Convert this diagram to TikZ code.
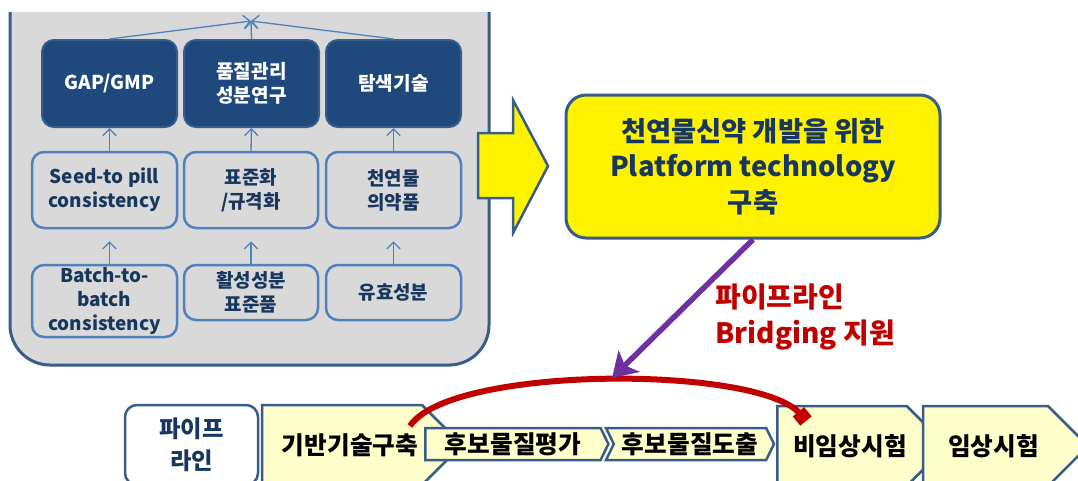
\documentclass[tikz,border=0pt]{standalone}
\usepackage{fontspec}
\setmainfont{Noto Sans CJK KR}
\usetikzlibrary{shapes.symbols,arrows.meta}

\definecolor{boxline}{HTML}{385D8A}
\definecolor{navy}{HTML}{1F497D}
\definecolor{midblue}{HTML}{4F81BD}
\definecolor{panelgray}{HTML}{D9D9D9}
\definecolor{paleyellow}{HTML}{FFFFCC}
\definecolor{darkred}{HTML}{C00000}
\definecolor{bridgepurple}{HTML}{7030A0}
\definecolor{textnavy}{HTML}{17375E}

\newdimen\pxu \pxu=0.75pt

\tikzset{
  topbox/.style={draw=boxline, fill=navy, line width=2\pxu, rounded corners=12\pxu,
    text=white, font=\fontsize{14.3}{17.5}\selectfont\bfseries, align=center,
    inner sep=0pt, minimum width=135\pxu, minimum height=87\pxu},
  subbox/.style={draw=midblue, fill=panelgray, line width=2.5\pxu, rounded corners=12\pxu,
    text=textnavy, font=\fontsize{14.2}{18}\selectfont\bfseries, align=center, inner sep=0pt},
  up/.style={draw=midblue, line width=1.3\pxu, -{Straight Barb[length=5pt,width=10pt]}},
  platbox/.style={draw=boxline, fill=yellow, line width=3\pxu, rounded corners=20\pxu,
    text=textnavy, font=\fontsize{20.5}{26.5}\selectfont\bfseries, align=center,
    minimum width=374\pxu, minimum height=143\pxu},
  bridgetext/.style={text=darkred, font=\fontsize{21}{26.5}\selectfont\bfseries, align=left, inner sep=0pt},
  pipebox/.style={draw=boxline, fill=white, line width=2.5\pxu, rounded corners=12\pxu,
    text=textnavy, font=\fontsize{17.5}{24}\selectfont\bfseries, align=center,
    minimum width=133\pxu, minimum height=80\pxu},
  stage/.style={signal, signal to=east, signal pointer angle=90, draw=boxline, fill=paleyellow,
    line width=2.5\pxu, inner sep=0pt, text=black, font=\fontsize{18.5}{22}\selectfont\bfseries,
    minimum height=80\pxu, execute at begin node={\hspace*{16\pxu}}},
  smallstage/.style={signal, signal to=east, signal pointer angle=128, draw=boxline, fill=paleyellow,
    line width=2.5\pxu, inner sep=0pt, text=black, font=\fontsize{18.5}{22}\selectfont\bfseries,
    minimum height=32\pxu},
}

\begin{document}
\begin{tikzpicture}[x=0.75pt,y=0.75pt,yscale=-1]
\useasboundingbox (0,0) rectangle (1078,480);
\clip (0,0) rectangle (1078,480);

%Shape: grey panel, cut at the top
\begin{scope}
  \clip (0,12) rectangle (1078,480);
  \draw[draw=boxline, fill=panelgray, line width=3\pxu, rounded corners=40\pxu] (10,-40) rectangle (489,365);
\end{scope}

% top row
\node[topbox] (gap) at (109.5,83.5) {GAP/GMP};
\node[topbox] (quality) at (251.5,83.5) {품질관리\\성분연구};
\node[topbox] (search) at (393.5,83.5) {탐색기술};

% middle row
\node[subbox, minimum width=145\pxu, minimum height=76\pxu] (seed) at (104.5,190) {Seed-to pill\\consistency};
\node[subbox, minimum width=134\pxu, minimum height=76\pxu] (standard) at (251,190) {표준화\\/규격화};
\node[subbox, minimum width=135\pxu, minimum height=76\pxu] (natural) at (393.5,190) {천연물\\의약품};

% bottom row
\node[subbox, minimum width=145\pxu, minimum height=72\pxu] (batch) at (104.5,301) {Batch-to-\\batch\\consistency};
\node[subbox, minimum width=134\pxu, minimum height=55\pxu] (active) at (251,292.5) {활성성분\\표준품};
\node[subbox, minimum width=135\pxu, minimum height=55\pxu] (effect) at (393.5,292.5) {유효성분};

% arrows inside the panel
\draw[up] (seed.north -| gap.south) -- (gap.south);
\draw[up] (standard.north) -- (quality.south);
\draw[up] (natural.north) -- (search.south);
\draw[up, shorten >=12\pxu] (batch.north -| gap.south) -- (seed.south -| gap.south);
\draw[up, shorten >=12\pxu] (active.north) -- (standard.south);
\draw[up, shorten >=12\pxu] (effect.north) -- (natural.south);

\coordinate (apex) at (251,21);
\draw[up] (gap.north) -- (apex);
\draw[up] (quality.north) -- (apex);
\draw[up] (search.north) -- (apex);

%Shape: yellow block arrow
\draw[draw=boxline, fill=yellow, line width=2.5\pxu] (478,133) -- (513,133) -- (513,100) -- (548,166) -- (513,233) -- (513,198) -- (478,198) -- cycle;

\node[platbox] (plat) at (753,166.5) {천연물신약 개발을 위한\\Platform technology\\구축};

% pipeline
\node[pipebox] (pipe) at (191.5,445) {파이프\\라인};
\node[stage, minimum width=200\pxu] (base) at (342,445) {기반기술구축};
\node[smallstage, minimum width=183\pxu] (evaluate) at (513,444) {후보물질평가};
\node[smallstage, signal from=west, minimum width=168\pxu] (derive) at (690,444) {후보물질도출};
\node[stage, minimum width=160\pxu] (preclin) at (842,446) {비임상시험};
\node[stage, minimum width=165\pxu] (clinic) at (985.5,446) {임상시험};

% red bridge
\coordinate (skipfrom) at (410,426);
\coordinate (skipto) at (806,421);
\draw[darkred, line width=6\pxu, -{Square[length=9pt,width=11pt]}] (skipfrom) .. controls (450,365) and (760,365) .. (skipto);

% purple arrow
\coordinate (meet) at (612,378);
\draw[bridgepurple, line width=5.5\pxu, -{Stealth[length=18pt,width=22.5pt,inset=4.5pt]}] (plat.south) -- (meet);

\node[bridgetext, anchor=west] (bridge) at (715,317) {파이프라인\\Bridging 지원};

\end{tikzpicture}
\end{document}
